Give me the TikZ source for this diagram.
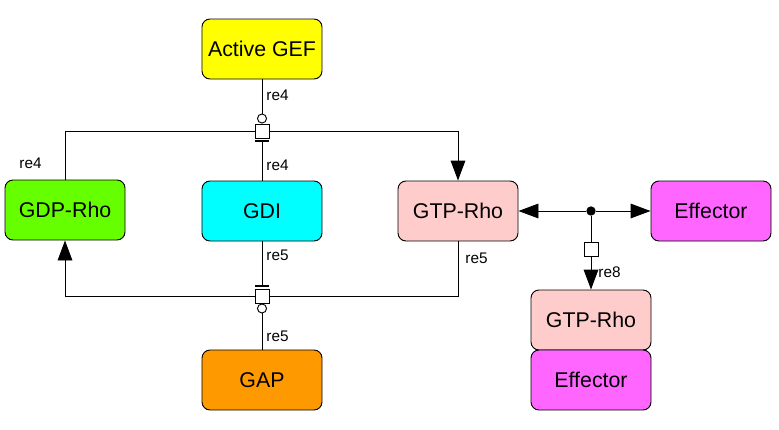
\documentclass[tikz,border=0pt]{standalone}
\usepackage{fontspec}
\setmainfont{Liberation Sans}
\usetikzlibrary{arrows.meta}

\definecolor{gefcol}{RGB}{255,255,0}
\definecolor{gdpcol}{RGB}{102,255,0}
\definecolor{gdicol}{RGB}{0,255,255}
\definecolor{gtpcol}{RGB}{255,204,204}
\definecolor{effcol}{RGB}{255,102,255}
\definecolor{gapcol}{RGB}{255,153,0}

\begin{document}
\begin{tikzpicture}[x=0.75pt, y=-0.75pt, line width=0.7pt,
  species/.style={draw, rounded corners=6pt, minimum width=90pt, minimum height=45pt, inner sep=0pt, font=\fontsize{16}{18}\selectfont},
  proc/.style={draw, fill=white, minimum size=10.5pt, inner sep=0pt},
  lab/.style={anchor=west, font=\fontsize{11.5}{13}\selectfont, inner sep=0pt},
  prod/.style={-{Triangle[length=15pt, width=11pt]}},
  cata/.style={-{Circle[open, length=7.5pt]}},
  inhib/.style={-{Bar[width=11pt, line width=1pt]}, shorten >=1.5pt}]
\useasboundingbox (0,0) rectangle (779,429);
% species
\node[species, fill=gefcol] (gef) at (262,49) {Active GEF};
\node[species, fill=gdpcol] (gdp) at (65,210) {GDP-Rho};
\node[species, fill=gdicol] (gdi) at (262,211) {GDI};
\node[species, fill=gtpcol] (gtp) at (458,211) {GTP-Rho};
\node[species, fill=effcol] (eff) at (711,211) {Effector};
\node[species, fill=gapcol] (gap) at (262,380) {GAP};
% complex GTP-Rho : Effector
\node[species, fill=gtpcol] (cgtp) at (591,320) {GTP-Rho};
\node[species, fill=effcol] (ceff) at (591,380) {Effector};
% process nodes
\node[proc] (p4) at (262,131) {};
\node[proc] (p5) at (262,296) {};
\node[proc] (p8) at (591,249) {};
\node[circle, fill, inner sep=0pt, minimum size=7pt] (d8) at (591,211) {};
% re4: GDP-Rho -> GTP-Rho
\draw (p4.west) -| (gdp.north);
\draw[prod] (p4.east) -| (gtp.north);
\draw[cata] (gef.south) -- (p4.north);
\draw[inhib] (gdi.north) -- (p4.south);
% re5: GTP-Rho -> GDP-Rho
\draw (gtp.south) |- (p5.east);
\draw[prod] (p5.west) -| (gdp.south);
\draw[inhib] (gdi.south) -- (p5.north);
\draw[cata] (gap.north) -- (p5.south);
% re8: GTP-Rho + Effector -> complex
\draw[prod] (d8) -- (gtp.east);
\draw[prod] (d8) -- (eff.west);
\draw (d8) -- (p8.north);
\draw[prod] (p8.south) -- (cgtp.north);
% reaction labels
\node[lab] (l4a) at (266,95) {re4};
\node[lab] (l4b) at (266,165) {re4};
\node[lab] (l4c) at (19,163) {re4};
\node[lab] (l5a) at (266,255) {re5};
\node[lab] (l5b) at (465,258) {re5};
\node[lab] (l5c) at (266,336) {re5};
\node[lab] (l8) at (598,272) {re8};
\end{tikzpicture}
\end{document}
